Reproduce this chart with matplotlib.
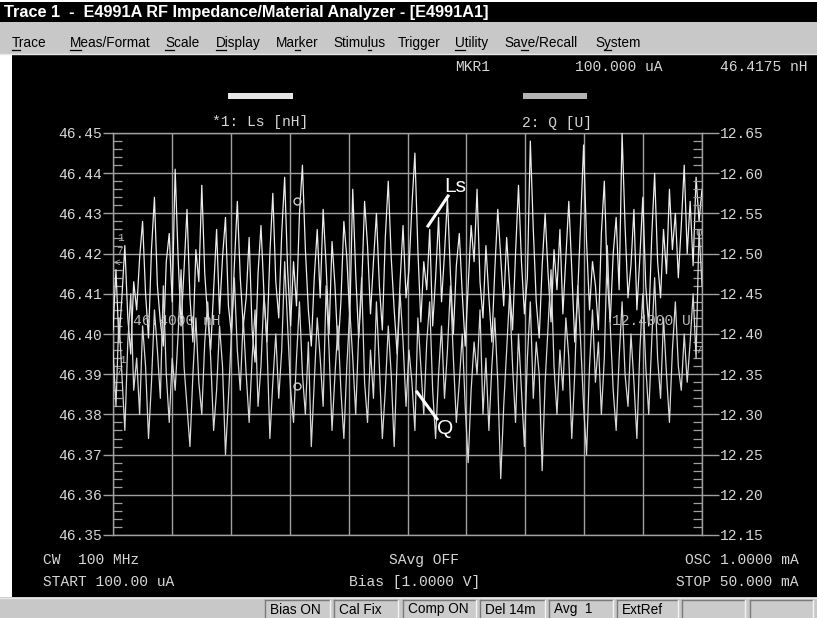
import numpy as np
import matplotlib
matplotlib.use('Agg')
import matplotlib.pyplot as plt
from matplotlib.patches import Rectangle
from matplotlib.lines import Line2D
from matplotlib.font_manager import FontProperties
from matplotlib.ticker import MultipleLocator

# ---------------- data ----------------
sweep_start_mA = 0.1
sweep_stop_mA = 50.0

ls_nH = [
    46.401, 46.416, 46.398, 46.409, 46.422, 46.404, 46.395, 46.413, 46.406, 46.419,
    46.428, 46.410, 46.399, 46.421, 46.434, 46.412, 46.403, 46.397, 46.418, 46.425,
    46.408, 46.441, 46.419, 46.402, 46.416, 46.431, 46.409, 46.398, 46.421, 46.413,
    46.437, 46.415, 46.404, 46.396, 46.411, 46.426, 46.405, 46.419, 46.429, 46.407,
    46.400, 46.417, 46.433, 46.414, 46.402, 46.409, 46.424, 46.401, 46.393, 46.415,
    46.427, 46.410, 46.398, 46.420, 46.435, 46.413, 46.404, 46.425, 46.439, 46.416,
    46.402, 46.418, 46.407, 46.430, 46.442, 46.421, 46.406, 46.397, 46.414, 46.426,
    46.409, 46.431, 46.417, 46.400, 46.423, 46.412, 46.396, 46.408, 46.428, 46.419,
    46.404, 46.436, 46.415, 46.399, 46.411, 46.433, 46.422, 46.405, 46.418, 46.430,
    46.412, 46.401, 46.424, 46.438, 46.419, 46.406, 46.395, 46.413, 46.427, 46.409,
    46.416, 46.432, 46.445, 46.421, 46.403, 46.418, 46.411, 46.426, 46.402, 46.414,
    46.429, 46.408, 46.420, 46.434, 46.415, 46.400, 46.417, 46.425, 46.410, 46.397,
    46.412, 46.427, 46.418, 46.436, 46.413, 46.404, 46.422, 46.409, 46.398, 46.416,
    46.431, 46.419, 46.407, 46.424, 46.412, 46.401, 46.420, 46.437, 46.418, 46.405,
    46.414, 46.448, 46.426, 46.408, 46.399, 46.417, 46.430, 46.415, 46.403, 46.421,
    46.411, 46.426, 46.405, 46.419, 46.433, 46.416, 46.398, 46.410, 46.428, 46.447,
    46.423, 46.406, 46.418, 46.412, 46.401, 46.425, 46.438, 46.414, 46.403, 46.420,
    46.429, 46.411, 46.450, 46.427, 46.409, 46.417, 46.431, 46.406, 46.419, 46.434,
    46.412, 46.402, 46.424, 46.440, 46.418, 46.409, 46.426, 46.415, 46.436, 46.421,
    46.430, 46.414, 46.427, 46.442, 46.420, 46.433, 46.417, 46.439, 46.428, 46.436,
]

q_U = [
    12.38, 12.31, 12.42, 12.35, 12.28, 12.39, 12.45, 12.33, 12.37, 12.30,
    12.41, 12.36, 12.27, 12.34, 12.43, 12.38, 12.32, 12.46, 12.35, 12.29,
    12.37, 12.33, 12.40, 12.48, 12.36, 12.31, 12.26, 12.35, 12.42, 12.34,
    12.30, 12.39, 12.44, 12.37, 12.28, 12.33, 12.41, 12.36, 12.25, 12.32,
    12.40, 12.47, 12.38, 12.33, 12.42, 12.35, 12.29, 12.37, 12.43, 12.31,
    12.36, 12.45, 12.39, 12.27, 12.34, 12.40, 12.32, 12.38, 12.49, 12.41,
    12.33, 12.29, 12.37, 12.44, 12.35, 12.30, 12.39, 12.26, 12.34, 12.42,
    12.37, 12.31, 12.46, 12.38, 12.28, 12.35, 12.41, 12.33, 12.27, 12.36,
    12.43, 12.37, 12.30, 12.40, 12.47, 12.34, 12.29, 12.38, 12.32, 12.44,
    12.36, 12.27, 12.33, 12.41, 12.35, 12.26, 12.37, 12.45, 12.39, 12.31,
    12.38, 12.34, 12.28, 12.42, 12.36, 12.30, 12.39, 12.44, 12.33, 12.27,
    12.35, 12.41, 12.32, 12.38, 12.46, 12.37, 12.29, 12.34, 12.40, 12.31,
    12.24, 12.33, 12.39, 12.35, 12.43, 12.30, 12.37, 12.28, 12.36, 12.42,
    12.34, 12.22, 12.31, 12.38, 12.45, 12.36, 12.29, 12.40, 12.33, 12.26,
    12.37, 12.44, 12.32, 12.39, 12.35, 12.23, 12.34, 12.41, 12.48, 12.36,
    12.30, 12.38, 12.33, 12.42, 12.37, 12.27, 12.35, 12.46, 12.39, 12.31,
    12.25, 12.36, 12.43, 12.34, 12.39, 12.30, 12.37, 12.51, 12.41, 12.33,
    12.28, 12.37, 12.44, 12.35, 12.31, 12.40, 12.34, 12.27, 12.38, 12.45,
    12.36, 12.30, 12.39, 12.47, 12.37, 12.32, 12.42, 12.35, 12.29, 12.38,
    12.44, 12.36, 12.33, 12.40, 12.34, 12.39, 12.45, 12.37, 12.53, 12.46,
]

ls_ticks = [46.35, 46.36, 46.37, 46.38, 46.39, 46.40, 46.41, 46.42, 46.43, 46.44, 46.45]
q_ticks = [12.15, 12.20, 12.25, 12.30, 12.35, 12.40, 12.45, 12.50, 12.55, 12.60, 12.65]
ls_ref = 46.40
q_ref = 12.40
marker_x_mA = 15.7
marker_ls = 46.433
marker_q = 12.335

title_text = "Trace 1  -  E4991A RF Impedance/Material Analyzer - [E4991A1]"
menu_items = ["Trace", "Meas/Format", "Scale", "Display", "Marker", "Stimulus",
              "Trigger", "Utility", "Save/Recall", "System"]
menu_underline = [0, 0, 0, 0, 2, 5, None, 0, 2, 1]
menu_x = [12, 70, 165, 216, 276, 333, 398, 455, 504, 595]

status_items = ["Bias ON", "Cal Fix", "Comp ON", "Del 14m", "Avg  1", "ExtRef", "", ""]
status_x = [(265, 330), (334, 398), (403, 476), (480, 545), (549, 613), (617, 678), (682, 745), (750, 813)]

# ---------------- figure ----------------
W, H = 817, 618
fig = plt.figure(figsize=(W / 100, H / 100), dpi=100)
fig.patch.set_facecolor('white')

MONO = 'Liberation Mono'
SANS = 'Liberation Sans'
TXT = '#d6d6d6'
GRID = '#a0a0a0'


def fx(x):
    return x / W


def fy(y):
    return 1 - y / H


def rect(x0, y0, x1, y1, fc, ec='none', lw=0, z=-5):
    fig.add_artist(Rectangle((fx(x0), fy(y1)), (x1 - x0) / W, (y1 - y0) / H,
                             transform=fig.transFigure, facecolor=fc,
                             edgecolor=ec, linewidth=lw, zorder=z))


def hline(x0, x1, y, color, lw=1, z=-4):
    fig.add_artist(Line2D([fx(x0), fx(x1)], [fy(y), fy(y)], transform=fig.transFigure,
                          color=color, lw=lw, zorder=z))


def vline(x, y0, y1, color, lw=1, z=-4):
    fig.add_artist(Line2D([fx(x), fx(x)], [fy(y0), fy(y1)], transform=fig.transFigure,
                          color=color, lw=lw, zorder=z))


def txt(x, y, s, ha='left', va='center', size=10.5, color=TXT, family=MONO, weight='normal', z=5):
    return fig.text(fx(x), fy(y), s, ha=ha, va=va, fontsize=size, color=color,
                    family=family, fontweight=weight, zorder=z)


renderer = fig.canvas.get_renderer()

# backgrounds
rect(0, 2, W, 22, 'black')            # title bar
rect(0, 22, W, 55, '#c8c8c8')         # menu bar
hline(0, W, 54, '#e8e8e8', lw=1)
rect(12, 55, W, 597, 'black')         # display
rect(0, 597, W, H, '#c8c8c8')         # status bar
hline(0, W, 597.5, '#e8e8e8', lw=1)

# title, sized to span the same width as the reference
title_fp = FontProperties(family=SANS, weight='bold', size=10)
tw = renderer.get_text_width_height_descent(title_text, title_fp, ismath=False)[0]
title_fp.set_size(10 * 482 / tw)
fig.text(fx(4), fy(12.5), title_text, ha='left', va='center', fontproperties=title_fp,
         color='white', zorder=5)

# menu with underlined access letters
menu_fp = FontProperties(family=SANS, size=9.8)
base_y = 47.3
for name, ux, mx in zip(menu_items, menu_underline, menu_x):
    fig.text(fx(mx), fy(base_y), name, ha='left', va='baseline', fontproperties=menu_fp,
             color='black', zorder=5)
    if ux is not None:
        w0 = renderer.get_text_width_height_descent(name[:ux], menu_fp, ismath=False)[0] if ux > 0 else 0
        w1 = renderer.get_text_width_height_descent(name[:ux + 1], menu_fp, ismath=False)[0]
        hline(mx + w0, mx + w1, 49.8, 'black', lw=0.9, z=5)

# status bar boxes
for label, (x0, x1) in zip(status_items, status_x):
    rect(x0, 600, x1, 620, '#cbcbcb', z=-3)
    hline(x0, x1, 600, '#7a7a7a', lw=1, z=-2)
    vline(x0, 600, 618, '#7a7a7a', lw=1, z=-2)
    vline(x1, 600, 618, '#f4f4f4', lw=1, z=-2)
    if label:
        txt(x0 + 5, 609.5, label, color='black', family=SANS, size=9.8)

# ---------------- plot area ----------------
ax = fig.add_axes([fx(113), fy(535), 589 / W, 402 / H])
ax.set_facecolor('black')
ax.set_xlim(sweep_start_mA, sweep_stop_mA)
ax.set_ylim(ls_ticks[0], ls_ticks[-1])
ax.set_xticks(np.linspace(sweep_start_mA, sweep_stop_mA, 11))
ax.tick_params(axis='x', length=0, labelbottom=False)
ax.set_yticks(ls_ticks)
ax.set_yticklabels([f'{v:.2f}' for v in ls_ticks])
ax.yaxis.set_minor_locator(MultipleLocator(0.002))
ax.tick_params(axis='y', which='major', direction='out', length=7.4, width=1,
               color=GRID, pad=0.8, labelsize=10.5, labelcolor=TXT)
ax.tick_params(axis='y', which='minor', direction='in', length=6.5, width=0.9,
               color=GRID, left=True, right=False)
for lab in ax.get_yticklabels():
    lab.set_fontfamily(MONO)
ax.grid(True, which='major', color=GRID, lw=1.0)
for s in ax.spines.values():
    s.set_color(GRID)
    s.set_linewidth(1.0)

ax2 = ax.twinx()
ax2.set_ylim(q_ticks[0], q_ticks[-1])
ax2.set_yticks(q_ticks)
ax2.set_yticklabels([f'{v:.2f}' for v in q_ticks])
ax2.yaxis.set_minor_locator(MultipleLocator(0.01))
ax2.tick_params(axis='y', which='major', direction='out', length=12.4, width=1,
                color=GRID, pad=0.8, labelsize=10.5, labelcolor=TXT)
ax2.tick_params(axis='y', which='minor', direction='in', length=6.5, width=0.9,
                color=GRID, right=True, left=False)
for lab in ax2.get_yticklabels():
    lab.set_fontfamily(MONO)
for s in ax2.spines.values():
    s.set_visible(False)
ax2.patch.set_visible(False)

x_ls = np.linspace(sweep_start_mA, sweep_stop_mA, len(ls_nH))
x_q = np.linspace(sweep_start_mA, sweep_stop_mA, len(q_U))
ax.plot(x_ls, ls_nH, color='#ececec', lw=0.9, zorder=3)
ax2.plot(x_q, q_U, color='#d8d8d8', lw=0.9, zorder=3)

ax.plot([marker_x_mA], [marker_ls], 'o', mfc='none', mec='#cfcfcf', ms=5, mew=1, zorder=4)
ax2.plot([marker_x_mA], [marker_q], 'o', mfc='none', mec='#cfcfcf', ms=5, mew=1, zorder=4)

# reference value labels
ax.annotate(f'{ls_ref:.4f} nH', xy=(sweep_start_mA, ls_ref), xytext=(20, 13),
            textcoords='offset pixels', ha='left', va='center', fontsize=10.5,
            family=MONO, color='#b8b8b8', zorder=5)
ax2.annotate(f'{q_ref:.4f} U', xy=(sweep_stop_mA, q_ref), xytext=(-90, 13),
             textcoords='offset pixels', ha='left', va='center', fontsize=10.5,
             family=MONO, color='#b8b8b8', zorder=5)

# reference position symbols at the edges
for (x, y, s) in [(121, 238, '1'), (119, 251, '7'), (117, 263, '<'),
                  (122, 360, '1'), (118, 372, '7'), (698, 350, '7'), (699, 233, '0')]:
    txt(x, y, s, ha='center', size=8, color='#b0b0b0')

# ---------------- header / footer texts ----------------
txt(455, 67, 'MKR1')
txt(575, 67, '100.000 uA')
txt(808, 67, '46.4175 nH', ha='right')
rect(228, 93, 293, 99, '#e6e6e6', z=1)
rect(523, 93, 587, 99, '#b4b4b4', z=1)
txt(212, 122, '*1: Ls [nH]')
txt(522, 123, '2: Q [U]')

txt(43, 560, 'CW  100 MHz')
txt(43, 582, 'START 100.00 uA')
txt(424, 560, 'SAvg OFF', ha='center')
txt(415, 582, 'Bias [1.0000 V]', ha='center')
txt(799, 560, 'OSC 1.0000 mA', ha='right')
txt(799, 582, 'STOP 50.000 mA', ha='right')

# trace callouts
fig.add_artist(Line2D([fx(428), fx(448)], [fy(226), fy(196)], transform=fig.transFigure,
                      color='white', lw=2.2, zorder=6))
txt(444, 186, 'Ls', color='white', family=SANS, size=15, z=6)
fig.add_artist(Line2D([fx(417), fx(437)], [fy(392), fy(419)], transform=fig.transFigure,
                      color='white', lw=2.2, zorder=6))
txt(437, 429, 'Q', color='white', family=SANS, size=15, z=6)

fig.savefig('out.png', dpi=100, facecolor=fig.get_facecolor())
